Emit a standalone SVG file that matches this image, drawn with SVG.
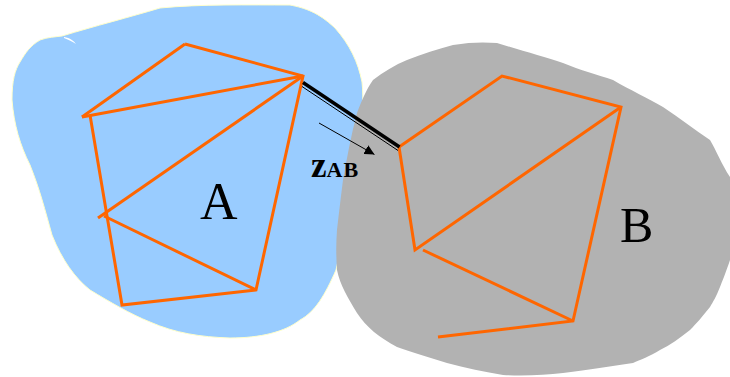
<svg xmlns="http://www.w3.org/2000/svg" width="730" height="377" viewBox="0 0 730 377">
<defs>
<style>
.edge{stroke:#ff6600;stroke-width:3;fill:none;stroke-linecap:butt;stroke-linejoin:miter}
.lbl{font-family:"Liberation Serif","Times New Roman",serif;fill:#000}
</style>
<marker id="ah" viewBox="0 0 10 10" refX="10" refY="5" markerWidth="10" markerHeight="10" markerUnits="userSpaceOnUse" orient="auto">
<path d="M0,0 L10,5 L0,10 Z" fill="#000"/>
</marker>
</defs>
<g id="regionA">
<path d="M160,8 C200,4 250,5 290,5 C305,8 318,12 335,28 C350,45 358,62 362,82 C364,100 362,120 358,145 C352,190 345,230 336,270 C325,295 315,312 300,320 C285,332 260,338 230,338 C200,337 175,333 150,322 C130,314 110,302 90,290 C75,278 62,260 52,235 C45,210 40,190 30,165 C20,145 14,125 12,100 C12,80 15,70 20,62 C26,52 30,46 40,40 C48,37 55,37 62,36 C95,26 130,17 160,8 Z" fill="#99ccff" stroke="#ffffcc" stroke-width="1"/>
<path d="M64,37 C70,38 74,41 76,44 C73,42 69,40 64,38 Z" fill="#ffffff"/>
<text class="lbl" x="200" y="219" font-size="52">A</text>
</g>
<g id="regionB">
<path d="M453,45 C470,42 485,42 497,43 C520,50 545,57 563,63 C580,70 598,75 613,80 C630,90 648,98 663,107 C680,118 695,130 710,140 C716,150 722,165 730,177 L730,260 C726,272 722,282 720,287 C716,297 713,302 710,307 C702,317 697,323 690,330 C680,338 670,345 660,350 C650,356 640,360 633,363 C610,366 590,370 563,373 C545,375 525,376 503,375 C485,372 465,368 447,363 C430,358 412,352 397,347 C380,338 366,327 357,313 C348,298 340,285 337,270 C336,255 336,243 337,230 C339,212 341,196 343,180 C347,158 351,135 357,113 C362,100 366,90 373,80 C383,72 395,65 407,60 C422,54 438,49 453,45 Z" fill="#b2b2b2"/>
<text class="lbl" x="620" y="242" font-size="50">B</text>
</g>
<g id="meshA">
<path class="edge" d="M185,44 L303,76 L256,290 L122,305 L90,115"/>
<path class="edge" d="M82,117 L185,44"/>
<path class="edge" d="M82,117 L303,76"/>
<path class="edge" d="M303,76 L98,218"/>
<path class="edge" d="M104,216 L256,290"/>
</g>
<g id="meshB">
<path class="edge" d="M399,147 L502,76 L621,107 L573,321 L438,337"/>
<path class="edge" d="M399,147 L415,250 L621,107"/>
<path class="edge" d="M423,250 L573,321"/>
</g>
<g id="connectors">
<line x1="303" y1="82.5" x2="399.5" y2="147" stroke="#000" stroke-width="3.5"/>
<line x1="302" y1="86.5" x2="398" y2="150.5" stroke="#000" stroke-width="1"/>
<line x1="319" y1="123" x2="374.5" y2="154.5" stroke="#000" stroke-width="1" marker-end="url(#ah)"/>
</g>
<g id="labelZ">
<text class="lbl" x="311" y="177" font-weight="bold"><tspan font-size="35">z</tspan><tspan font-size="22" letter-spacing="1">AB</tspan></text>
</g>
</svg>
